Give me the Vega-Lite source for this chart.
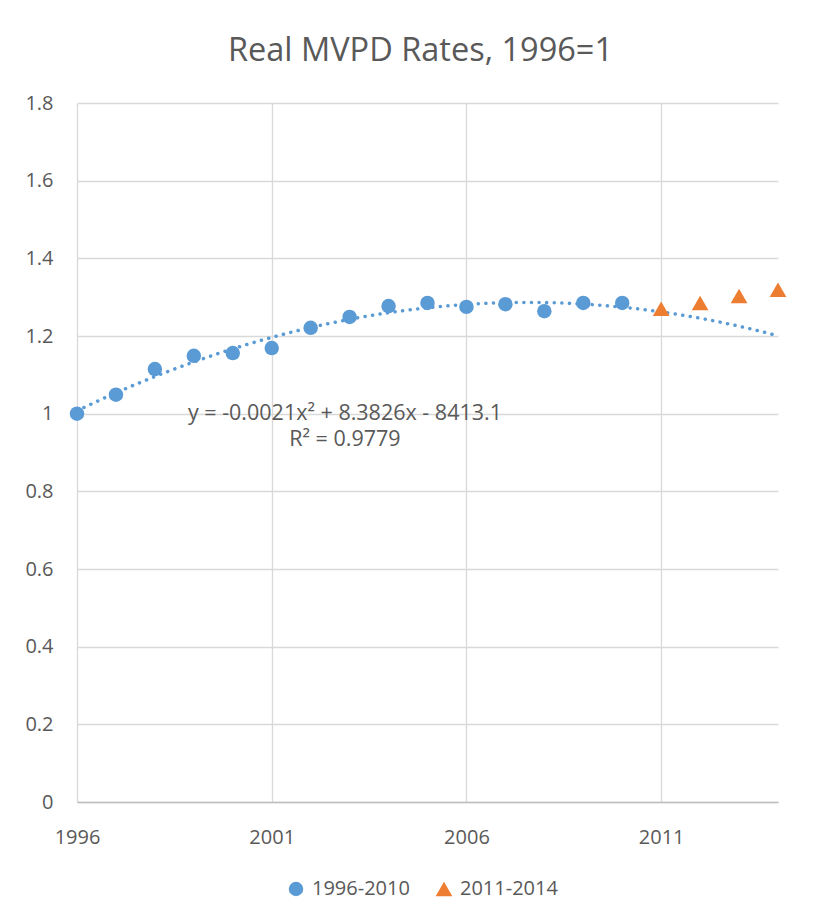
{
  "$schema": "https://vega.github.io/schema/vega-lite/v6.json",
  "autosize": {"type": "none"},
  "width": 701,
  "height": 699,
  "padding": {"left": 77, "top": 103, "right": 46, "bottom": 122},
  "background": "white",
  "title": {
    "text": "Real MVPD Rates, 1996=1",
    "font": "Open Sans",
    "fontSize": 32.5,
    "fontWeight": "normal",
    "color": "#595959",
    "anchor": "middle",
    "baseline": "alphabetic",
    "offset": 0,
    "dx": -7
  },
  "config": {
    "view": {"stroke": null},
    "font": "Open Sans",
    "axis": {
      "labelFont": "Open Sans",
      "labelFontSize": 20,
      "labelColor": "#595959",
      "labelFlush": false,
      "gridColor": "#D9D9D9",
      "gridWidth": 1.3,
      "ticks": false,
      "title": null
    },
    "legend": {
      "labelFont": "Open Sans",
      "labelFontSize": 20,
      "labelColor": "#595959"
    }
  },
  "data": {
    "values": [
      {"year": 1996, "value": 1.0, "series": "1996-2010"},
      {"year": 1997, "value": 1.049, "series": "1996-2010"},
      {"year": 1998, "value": 1.115, "series": "1996-2010"},
      {"year": 1999, "value": 1.149, "series": "1996-2010"},
      {"year": 2000, "value": 1.156, "series": "1996-2010"},
      {"year": 2001, "value": 1.169, "series": "1996-2010"},
      {"year": 2002, "value": 1.221, "series": "1996-2010"},
      {"year": 2003, "value": 1.249, "series": "1996-2010"},
      {"year": 2004, "value": 1.277, "series": "1996-2010"},
      {"year": 2005, "value": 1.285, "series": "1996-2010"},
      {"year": 2006, "value": 1.275, "series": "1996-2010"},
      {"year": 2007, "value": 1.282, "series": "1996-2010"},
      {"year": 2008, "value": 1.264, "series": "1996-2010"},
      {"year": 2009, "value": 1.285, "series": "1996-2010"},
      {"year": 2010, "value": 1.285, "series": "1996-2010"},
      {"year": 2011, "value": 1.27, "series": "2011-2014"},
      {"year": 2012, "value": 1.285, "series": "2011-2014"},
      {"year": 2013, "value": 1.303, "series": "2011-2014"},
      {"year": 2014, "value": 1.319, "series": "2011-2014"}
    ]
  },
  "layer": [
    {
      "transform": [
        {"filter": "datum.series === '1996-2010'"},
        {"regression": "value", "on": "year", "method": "poly", "order": 2, "extent": [1996, 2014]}
      ],
      "mark": {"type": "line", "color": "#5B9BD5", "strokeWidth": 3.5, "strokeCap": "round", "strokeDash": [0.1, 7.5]},
      "encoding": {
        "x": {"field": "year", "type": "quantitative", "scale": {"domain": [1996, 2014], "nice": false, "zero": false}},
        "y": {"field": "value", "type": "quantitative", "scale": {"domain": [0, 1.8], "nice": false}}
      }
    },
    {
      "mark": {"type": "point", "filled": true, "opacity": 1},
      "encoding": {
        "x": {
          "field": "year",
          "type": "quantitative",
          "scale": {"domain": [1996, 2014], "nice": false, "zero": false},
          "axis": {
            "values": [1996, 2001, 2006, 2011],
            "format": "d",
            "domain": true,
            "domainColor": "#BFBFBF",
            "domainWidth": 1.5,
            "labelPadding": 25,
            "grid": true
          }
        },
        "y": {
          "field": "value",
          "type": "quantitative",
          "scale": {"domain": [0, 1.8], "nice": false},
          "axis": {
            "values": [0, 0.2, 0.4, 0.6, 0.8, 1, 1.2, 1.4, 1.6, 1.8],
            "format": "~g",
            "domain": false,
            "labelPadding": 24,
            "grid": true
          }
        },
        "color": {
          "field": "series",
          "type": "nominal",
          "scale": {"domain": ["1996-2010", "2011-2014"], "range": ["#5B9BD5", "#ED7D31"]},
          "legend": {"orient": "none", "legendX": 209, "legendY": 776, "direction": "horizontal", "title": null, "columnPadding": 24, "labelOffset": 6}
        },
        "shape": {
          "field": "series",
          "type": "nominal",
          "scale": {"domain": ["1996-2010", "2011-2014"], "range": ["circle", "triangle-up"]},
          "legend": {"orient": "none", "legendX": 209, "legendY": 776, "direction": "horizontal", "title": null, "columnPadding": 24, "labelOffset": 6}
        },
        "size": {
          "field": "series",
          "type": "nominal",
          "scale": {"domain": ["1996-2010", "2011-2014"], "range": [210, 280]},
          "legend": {"orient": "none", "legendX": 209, "legendY": 776, "direction": "horizontal", "title": null, "columnPadding": 24, "labelOffset": 6}
        }
      }
    },
    {
      "data": {
        "values": [
          {"year": 2002.88, "value": 1.0, "label": "y = -0.0021x² + 8.3826x - 8413.1"},
          {"year": 2002.88, "value": 0.932, "label": "R² = 0.9779"}
        ]
      },
      "mark": {"type": "text", "font": "Open Sans", "fontSize": 21.5, "color": "#595959", "align": "center", "baseline": "middle"},
      "encoding": {
        "x": {"field": "year", "type": "quantitative"},
        "y": {"field": "value", "type": "quantitative"},
        "text": {"field": "label", "type": "nominal"}
      }
    }
  ]
}
